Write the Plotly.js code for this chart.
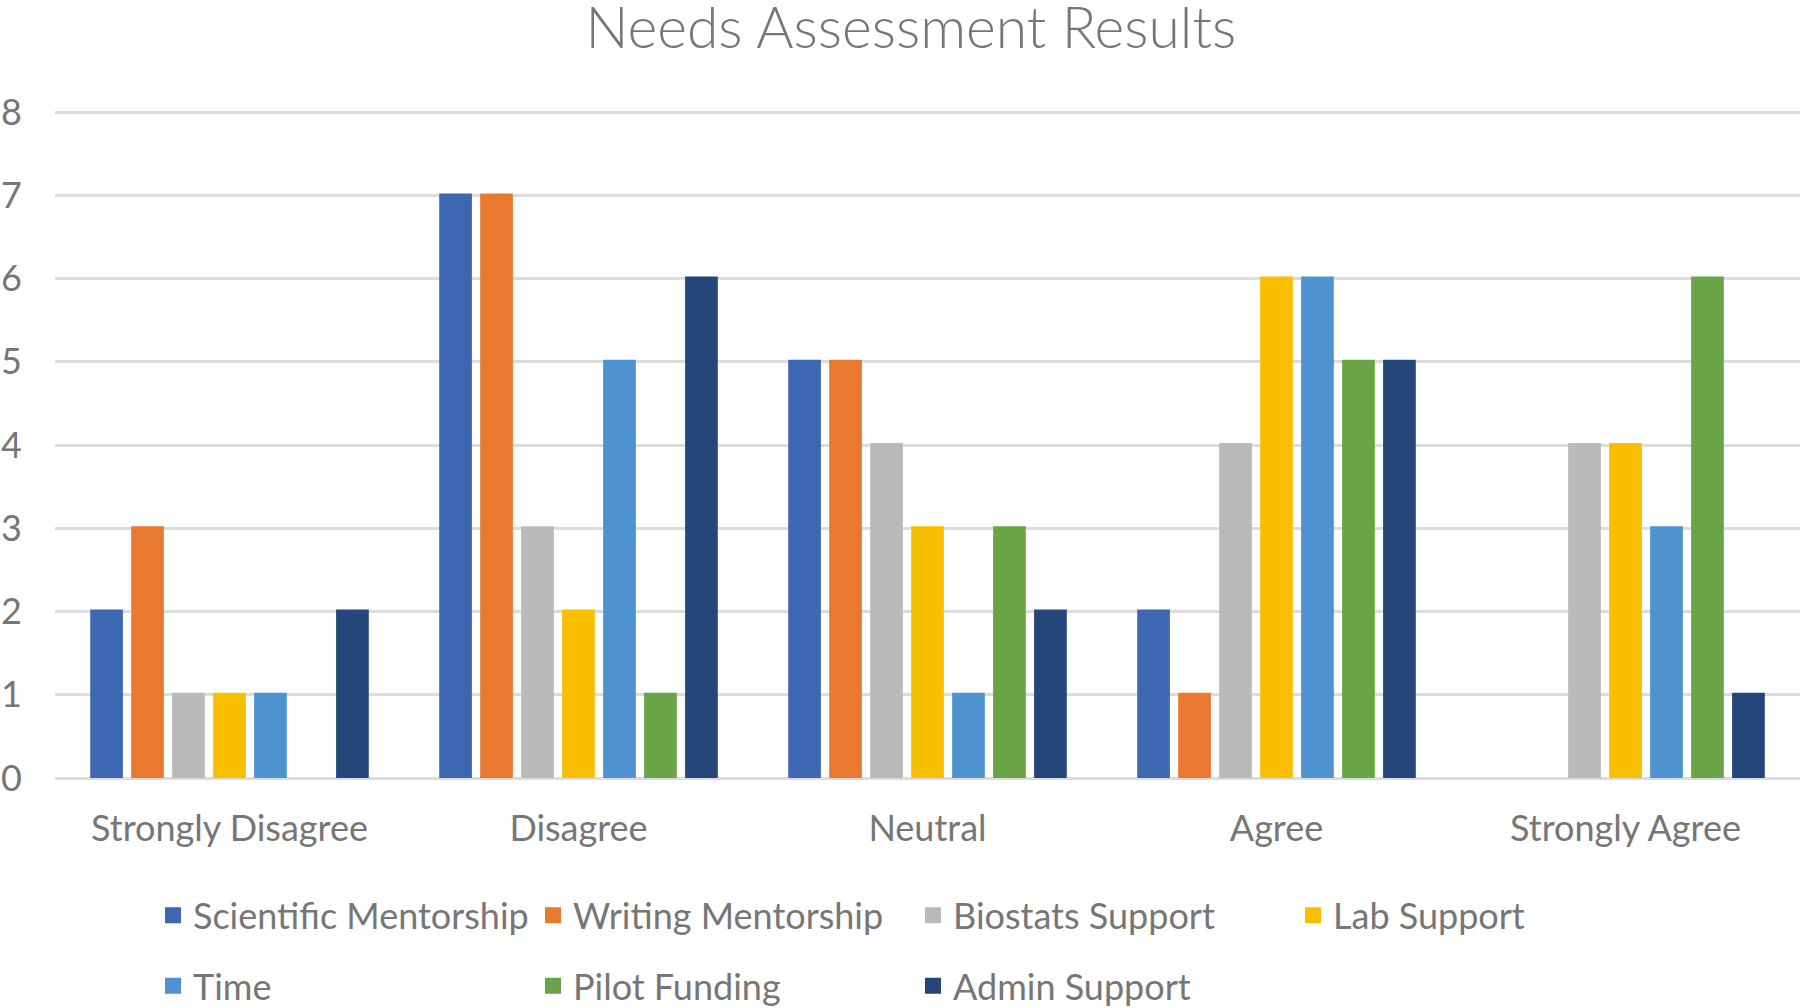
<!DOCTYPE html>
<html>
<head>
<meta charset="utf-8">
<script src="https://cdn.plot.ly/plotly-3.0.1.min.js"></script>
<style>
  html, body { margin: 0; padding: 0; background: #fff; }
  #chart { width: 1800px; height: 1008px; }
</style>
</head>
<body>
<div id="chart"></div>
<script>
// Needs assessment: count of responses per support type, by agreement level
const categories = ["Strongly Disagree", "Disagree", "Neutral", "Agree", "Strongly Agree"];

const scientificMentorship = [2, 7, 5, 2, 0];
const writingMentorship    = [3, 7, 5, 1, 0];
const biostatsSupport      = [1, 3, 4, 4, 4];
const labSupport           = [1, 2, 3, 6, 4];
const timeSupport          = [1, 5, 1, 6, 3];
const pilotFunding         = [0, 1, 3, 5, 6];
const adminSupport         = [2, 6, 2, 5, 1];

const yTicks = [0, 1, 2, 3, 4, 5, 6, 7, 8];

const FONT = "Lato, 'Open Sans', sans-serif";
const TEXT_GRAY = "#767676";

// name, values, colour, which legend row
const seriesDefs = [
  ["Scientific Mentorship", scientificMentorship, "#3E67B1", "legend"],
  ["Writing Mentorship",    writingMentorship,    "#E97830", "legend"],
  ["Biostats Support",      biostatsSupport,      "#BABABA", "legend"],
  ["Lab Support",           labSupport,           "#F8BE00", "legend"],
  ["Time",                  timeSupport,          "#4E93CF", "legend2"],
  ["Pilot Funding",         pilotFunding,         "#69A547", "legend2"],
  ["Admin Support",         adminSupport,         "#244679", "legend2"]
];

// outline in the same colour makes the legend swatches bigger;
// zero counts go in as null so no outline stub is drawn for them
const traces = seriesDefs.map(([name, vals, color, leg]) => ({
  type: "bar",
  x: categories,
  y: vals.map(v => (v === 0 ? null : v)),
  name: name,
  legend: leg,
  marker: { color: color, line: { width: 4, color: color } },
  hoverinfo: "x+y+name"
}));

function legendRow(yPos) {
  return {
    orientation: "h",
    xref: "container",
    yref: "container",
    x: 0.085,
    xanchor: "left",
    y: yPos,
    yanchor: "middle",
    entrywidth: 335,
    entrywidthmode: "pixels",
    itemclick: false,
    font: { family: FONT, size: 36, color: TEXT_GRAY },
    bgcolor: "rgba(0,0,0,0)"
  };
}

const layout = {
  width: 1800,
  height: 1008,
  paper_bgcolor: "#ffffff",
  plot_bgcolor: "#ffffff",
  margin: { t: 108, r: 0, b: 230, l: 55 },
  title: {
    text: "Needs Assessment Results",
    font: { family: FONT, size: 57, color: TEXT_GRAY, weight: 300 },
    xref: "container",
    x: 0.506,
    xanchor: "center",
    yref: "container",
    y: 0.992,
    yanchor: "top"
  },
  bargap: 0.178,
  bargroupgap: 0.3,
  barmode: "group",
  xaxis: {
    type: "category",
    tickfont: { family: FONT, size: 36, color: TEXT_GRAY },
    ticks: "",
    ticklabelstandoff: 26,
    showgrid: false,
    showline: false,
    zeroline: false
  },
  yaxis: {
    range: [0, 8.05],
    tickvals: yTicks,
    ticktext: yTicks.map(String),
    tickfont: { family: FONT, size: 36, color: TEXT_GRAY },
    ticks: "",
    ticklabelstandoff: 32,
    showgrid: true,
    gridcolor: "#DCDCDC",
    gridwidth: 3,
    zeroline: true,
    zerolinecolor: "#DCDCDC",
    zerolinewidth: 3,
    showline: false
  },
  showlegend: true,
  legend: legendRow(0.092),
  legend2: legendRow(0.022)
};

Plotly.newPlot("chart", traces, layout, { displayModeBar: false, staticPlot: true });
</script>
</body>
</html>
